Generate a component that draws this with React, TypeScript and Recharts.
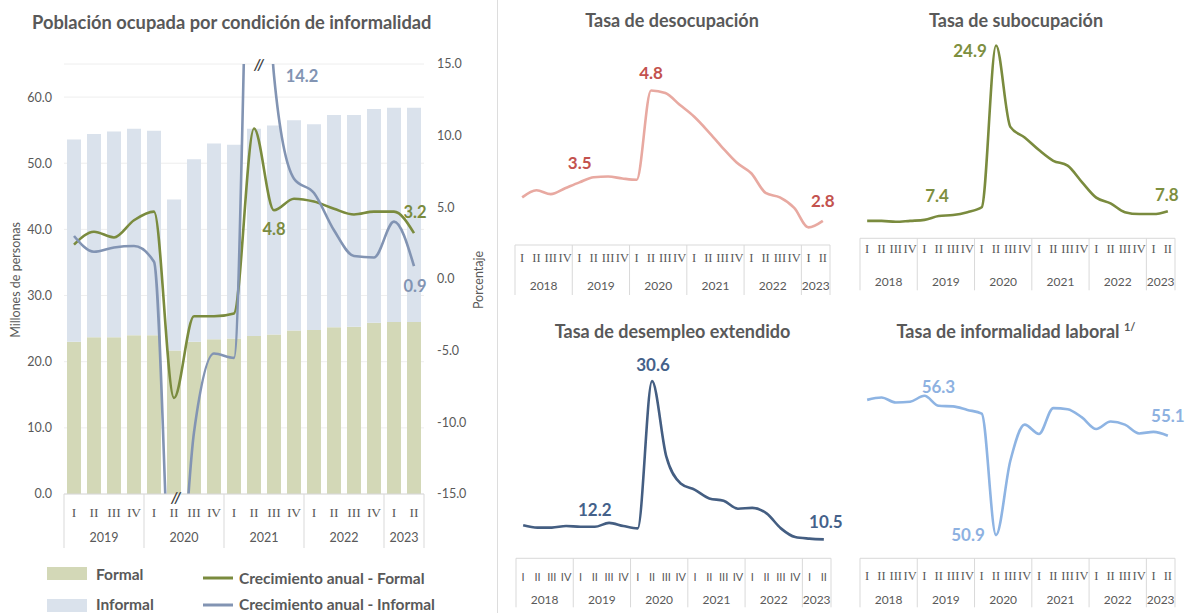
import React from 'react';
import {
  ComposedChart,
  LineChart,
  Bar,
  Line,
  XAxis,
  YAxis,
  CartesianGrid,
  LabelList,
  ReferenceDot,
} from 'recharts';

const GRAY = '#595959';
const AXIS_LINE = '#D9D9D9';
const SANS = 'Lato, "Open Sans", sans-serif';
const SERIF = '"Liberation Serif", "DejaVu Serif", serif';

// ---------- Left chart data ----------
const leftYears = ['2019', '2019', '2019', '2019', '2020', '2020', '2020', '2020', '2021', '2021', '2021', '2021', '2022', '2022', '2022', '2022', '2023', '2023'];
const leftQuarters = ['I', 'II', 'III', 'IV', 'I', 'II', 'III', 'IV', 'I', 'II', 'III', 'IV', 'I', 'II', 'III', 'IV', 'I', 'II'];
const formalMillions = [23.0, 23.7, 23.7, 24.0, 24.0, 21.7, 23.0, 23.4, 23.5, 23.9, 24.1, 24.7, 24.8, 25.2, 25.3, 25.9, 26.0, 26.0];
const informalMillions = [30.6, 30.7, 31.1, 31.2, 30.9, 22.8, 27.6, 29.6, 29.3, 31.3, 31.6, 31.8, 31.1, 32.1, 32.0, 32.3, 32.4, 32.4];
const formalGrowth = [2.4, 3.3, 2.9, 4.1, 4.7, -8.3, -2.6, -2.6, -2.4, 10.5, 4.8, 5.6, 5.4, 4.9, 4.5, 4.7, 4.7, 3.2];
const informalGrowth = [3.0, 1.9, 2.2, 2.3, 1.2, -25.7, -10.7, -5.2, -5.5, 37.0, 14.2, 7.0, 6.0, 3.4, 1.6, 1.5, 4.0, 0.9];
const millionsTicks = [0, 10, 20, 30, 40, 50, 60];
const pctTicks = [-15, -10, -5, 0, 5, 10, 15];
const formalGrowthLabels = [{ i: 10, text: '4.8', dx: 0, dy: 19 }, { i: 17, text: '3.2', dx: 1, dy: -21 }];
const informalGrowthLabels = [{ i: 10, text: '14.2', dx: 28, dy: 1 }, { i: 17, text: '0.9', dx: 1, dy: 20 }];
const breakMarks = [{ i: 9, y: 15, dx: 5, dy: 0 }, { i: 5, y: -15, dx: 2, dy: 3 }];

// ---------- Small charts data ----------
const smallYears = ['2018', '2018', '2018', '2018', '2019', '2019', '2019', '2019', '2020', '2020', '2020', '2020', '2021', '2021', '2021', '2021', '2022', '2022', '2022', '2022', '2023', '2023'];
const smallQuarters = ['I', 'II', 'III', 'IV', 'I', 'II', 'III', 'IV', 'I', 'II', 'III', 'IV', 'I', 'II', 'III', 'IV', 'I', 'II', 'III', 'IV', 'I', 'II'];
const desocupacion = [3.16, 3.27, 3.21, 3.3, 3.39, 3.47, 3.48, 3.45, 3.43, 4.8, 4.76, 4.58, 4.4, 4.17, 3.92, 3.69, 3.53, 3.23, 3.16, 3.0, 2.7, 2.8];
const subocupacion = [6.8, 6.8, 6.7, 6.8, 6.9, 7.3, 7.4, 7.7, 8.2, 24.9, 16.5, 15.4, 14.1, 13.0, 12.5, 10.8, 9.2, 8.6, 7.7, 7.5, 7.5, 7.8];
const desempleoExtendido = [12.3, 12.0, 12.0, 12.2, 12.1, 12.1, 12.6, 12.2, 11.9, 30.6, 21.0, 17.6, 16.8, 15.7, 15.4, 14.4, 14.5, 13.8, 11.9, 10.8, 10.6, 10.5];
const informalidadLaboral = [56.14, 56.23, 56.04, 56.07, 56.3, 55.91, 55.89, 55.75, 55.61, 50.9, 53.78, 55.18, 54.82, 55.82, 55.78, 55.46, 55.01, 55.3, 55.18, 54.84, 54.9, 54.75];

const desocLabels = [{ i: 5, text: '3.5', dx: -14, dy: -15 }, { i: 9, text: '4.8', dx: 0, dy: -18 }, { i: 21, text: '2.8', dx: 0, dy: -20 }];
const subocLabels = [{ i: 9, text: '24.9', dx: -26, dy: 5 }, { i: 6, text: '7.4', dx: -16, dy: -20 }, { i: 21, text: '7.8', dx: -1, dy: -17 }];
const desempLabels = [{ i: 9, text: '30.6', dx: 1, dy: -17 }, { i: 5, text: '12.2', dx: 0, dy: -17 }, { i: 21, text: '10.5', dx: 2, dy: -18 }];
const informLabels = [{ i: 4, text: '56.3', dx: 14, dy: -9 }, { i: 9, text: '50.9', dx: -28, dy: -1 }, { i: 21, text: '55.1', dx: 0, dy: -20 }];

type LabelSpec = { i: number; text: string; dx: number; dy: number };

type TickCfg = {
  keys: string[];
  years: string[];
  quarters: string[];
  band: number;
  axisTop: number;
  qY: number;
  yY: number;
  sepBottom: number;
  qFont: string;
  qSize: number;
  ySize: number;
};

function makeTick(cfg: TickCfg) {
  return (props: any) => {
    const { x, payload } = props;
    let i = cfg.keys.indexOf(payload?.value);
    if (i < 0) i = props.index ?? 0;
    const yr = cfg.years[i];
    const first = i === 0 || cfg.years[i - 1] !== yr;
    const last = i === cfg.years.length - 1;
    let count = 0;
    if (first) {
      for (let j = i; j < cfg.years.length && cfg.years[j] === yr; j++) count++;
    }
    const left = x - cfg.band / 2;
    return (
      <g>
        <text x={x} y={cfg.qY} textAnchor="middle" dominantBaseline="central" fontFamily={cfg.qFont} fontSize={cfg.qSize} fill={GRAY}>
          {cfg.quarters[i]}
        </text>
        {first && <line x1={left} x2={left} y1={cfg.axisTop} y2={cfg.sepBottom} stroke={AXIS_LINE} strokeWidth={1} />}
        {first && (
          <text x={left + (count * cfg.band) / 2} y={cfg.yY} textAnchor="middle" dominantBaseline="central" fontFamily={SANS} fontSize={cfg.ySize} fill={GRAY}>
            {yr}
          </text>
        )}
        {last && <line x1={x + cfg.band / 2} x2={x + cfg.band / 2} y1={cfg.axisTop} y2={cfg.sepBottom} stroke={AXIS_LINE} strokeWidth={1} />}
      </g>
    );
  };
}

function makeLabel(specs: LabelSpec[], color: string, size: number) {
  return (p: any) => {
    const idx = Number(p.value);
    const s = specs.find((q) => q.i === idx);
    if (!s) return null;
    const x = p.viewBox?.x ?? p.x;
    const y = p.viewBox?.y ?? p.y;
    return (
      <text x={x + s.dx} y={y + s.dy} textAnchor="middle" dominantBaseline="central" fontFamily={SANS} fontWeight={700} fontSize={size} fill={color}>
        {s.text}
      </text>
    );
  };
}

type SmallSpec = {
  left: number;
  top: number;
  plotLeft: number;
  plotTop: number;
  plotBottom: number;
  domain: [number, number];
  values: number[];
  color: string;
  labelColor: string;
  labels: LabelSpec[];
  qDy: number;
  yDy: number;
  sepDy: number;
  qFont: string;
  qSize: number;
};

const PLOT_W = 315;

function SmallChart({ spec }: { spec: SmallSpec }) {
  const data = spec.values.map((v, i) => ({ key: `${smallYears[i]}-${smallQuarters[i]}`, v, idx: i }));
  const keys = data.map((d) => d.key);
  const band = PLOT_W / spec.values.length;
  const width = 370;
  const mLeft = spec.plotLeft - spec.left;
  const mTop = spec.plotTop - spec.top;
  const axisTop = spec.plotBottom - spec.top;
  const axisH = spec.sepDy + 4;
  const height = axisTop + axisH;
  const tick = makeTick({
    keys,
    years: smallYears,
    quarters: smallQuarters,
    band,
    axisTop,
    qY: axisTop + spec.qDy,
    yY: axisTop + spec.yDy,
    sepBottom: axisTop + spec.sepDy,
    qFont: spec.qFont,
    qSize: spec.qSize,
    ySize: 12,
  });
  return (
    <div style={{ position: 'absolute', left: spec.left, top: spec.top }}>
      <LineChart width={width} height={height} data={data} margin={{ top: mTop, left: mLeft, right: width - mLeft - PLOT_W, bottom: 0 }}>
        <XAxis
          dataKey="key"
          interval={0}
          height={axisH}
          padding={{ left: band / 2, right: band / 2 }}
          axisLine={{ stroke: AXIS_LINE }}
          tickLine={false}
          tick={tick}
        />
        <YAxis hide domain={spec.domain} allowDataOverflow />
        <Line dataKey="v" type="monotone" stroke={spec.color} strokeWidth={2.6} dot={false} isAnimationActive={false}>
          <LabelList dataKey="idx" content={makeLabel(spec.labels, spec.labelColor, 17)} />
        </Line>
      </LineChart>
    </div>
  );
}

const smallSpecs: SmallSpec[] = [
  {
    left: 490, top: 0, plotLeft: 515, plotTop: 77.4, plotBottom: 245, domain: [2.43, 5.0],
    values: desocupacion, color: '#E8A9A1', labelColor: '#C3524E', labels: desocLabels,
    qDy: 13, yDy: 40, sepDy: 50, qFont: SERIF, qSize: 12.5,
  },
  {
    left: 820, top: 0, plotLeft: 860, plotTop: 34.8, plotBottom: 238.3, domain: [5, 26],
    values: subocupacion, color: '#7A8B3E', labelColor: '#7D8F3F', labels: subocLabels,
    qDy: 10.5, yDy: 43.5, sepDy: 52, qFont: SERIF, qSize: 12.5,
  },
  {
    left: 490, top: 300, plotLeft: 516, plotTop: 370.1, plotBottom: 558.3, domain: [8.1, 32],
    values: desempleoExtendido, color: '#445E82', labelColor: '#44618A', labels: desempLabels,
    qDy: 18, yDy: 41.5, sepDy: 49, qFont: SANS, qSize: 11,
  },
  {
    left: 820, top: 300, plotLeft: 860, plotTop: 364.8, plotBottom: 558.3, domain: [50, 57.5],
    values: informalidadLaboral, color: '#8EB4E3', labelColor: '#8DB1E1', labels: informLabels,
    qDy: 18, yDy: 41.5, sepDy: 49, qFont: SERIF, qSize: 12.5,
  },
];

const smallTitles = [
  { text: 'Tasa de desocupación', x: 672, y: 27 },
  { text: 'Tasa de subocupación', x: 1016, y: 27 },
  { text: 'Tasa de desempleo extendido', x: 672.5, y: 338 },
];

const FORMAL_BAR = '#D3D8B7';
const INFORMAL_BAR = '#DAE2EC';
const FORMAL_LINE = '#7A8B3E';
const INFORMAL_LINE = '#8294B3';

export default function App() {
  const leftData = leftQuarters.map((q, i) => ({
    key: `${leftYears[i]}-${q}`,
    formal: formalMillions[i],
    informal: informalMillions[i],
    gF: formalGrowth[i],
    gI: informalGrowth[i],
    idx: i,
  }));
  const leftKeys = leftData.map((d) => d.key);
  const leftTick = makeTick({
    keys: leftKeys,
    years: leftYears,
    quarters: leftQuarters,
    band: 360 / leftKeys.length,
    axisTop: 494,
    qY: 512,
    yY: 537,
    sepBottom: 548,
    qFont: SERIF,
    qSize: 13.5,
    ySize: 12.5,
  });

  return (
    <div style={{ position: 'absolute', left: 0, top: 0, width: 1190, height: 613, background: '#fff', overflow: 'hidden' }}>
      <svg style={{ position: 'absolute', left: 0, top: 0 }} width={1190} height={613}>
        <line x1={497.5} x2={497.5} y1={0} y2={613} stroke="#DDDDDD" strokeWidth={1} />
        <text x={32} y={29} fontFamily={SANS} fontWeight={700} fontSize={18.3} fill={GRAY}>
          Población ocupada por condición de informalidad
        </text>
        {smallTitles.map((t) => (
          <text key={t.text} x={t.x} y={t.y} textAnchor="middle" fontFamily={SANS} fontWeight={700} fontSize={18} fill={GRAY}>
            {t.text}
          </text>
        ))}
        <text x={1016} y={338} textAnchor="middle" fontFamily={SANS} fontWeight={700} fontSize={18} fill={GRAY}>
          Tasa de informalidad laboral <tspan fontSize={11} dy={-7}>1/</tspan>
        </text>
        {/* legend */}
        <rect x={47} y={567} width={40} height={13} fill={FORMAL_BAR} />
        <text x={96} y={574} dominantBaseline="central" fontFamily={SANS} fontWeight={700} fontSize={15.5} fill={GRAY}>Formal</text>
        <rect x={47} y={599} width={40} height={13} fill={INFORMAL_BAR} />
        <text x={96} y={603.5} dominantBaseline="central" fontFamily={SANS} fontWeight={700} fontSize={15.5} fill={GRAY}>Informal</text>
        <line x1={203} x2={233} y1={578} y2={578} stroke={FORMAL_LINE} strokeWidth={3} />
        <text x={239} y={578} dominantBaseline="central" fontFamily={SANS} fontWeight={700} fontSize={15.5} fill={GRAY}>Crecimiento anual - Formal</text>
        <line x1={203} x2={233} y1={605} y2={605} stroke={INFORMAL_LINE} strokeWidth={3} />
        <text x={239} y={604} dominantBaseline="central" fontFamily={SANS} fontWeight={700} fontSize={15.5} fill={GRAY}>Crecimiento anual - Informal</text>
      </svg>

      <div style={{ position: 'absolute', left: 0, top: 0 }}>
        <ComposedChart width={490} height={550} data={leftData} margin={{ top: 64, right: 6, left: 14, bottom: 0 }}>
          <CartesianGrid yAxisId="left" vertical={false} stroke="#EEEEEE" />
          <XAxis dataKey="key" interval={0} height={56} axisLine={{ stroke: AXIS_LINE }} tickLine={false} tick={leftTick} />
          <YAxis
            yAxisId="left"
            domain={[0, 65]}
            ticks={millionsTicks}
            width={50}
            axisLine={false}
            tickLine={false}
            tickMargin={6}
            tickFormatter={(v: number) => v.toFixed(1)}
            tick={{ fill: GRAY, fontSize: 12.5, fontFamily: SANS }}
            label={(p: any) => {
              const vb = p.viewBox || {};
              const cx = vb.x + 1;
              const cy = vb.y + vb.height / 2 + 1;
              return (
                <text x={cx} y={cy} transform={`rotate(-90 ${cx} ${cy})`} textAnchor="middle" dominantBaseline="central" fontFamily={SANS} fontSize={12.5} fill={GRAY}>
                  Millones de personas
                </text>
              );
            }}
          />
          <YAxis
            yAxisId="right"
            orientation="right"
            domain={[-15, 15]}
            allowDataOverflow
            ticks={pctTicks}
            width={60}
            axisLine={false}
            tickLine={false}
            tickMargin={7}
            tickFormatter={(v: number) => v.toFixed(1)}
            tick={{ fill: GRAY, fontSize: 12.5, fontFamily: SANS }}
            label={(p: any) => {
              const vb = p.viewBox || {};
              const cx = vb.x + 54;
              const cy = vb.y + vb.height / 2 + 1;
              return (
                <text x={cx} y={cy} transform={`rotate(-90 ${cx} ${cy})`} textAnchor="middle" dominantBaseline="central" fontFamily={SANS} fontSize={12.5} fill={GRAY}>
                  Porcentaje
                </text>
              );
            }}
          />
          <Bar yAxisId="left" dataKey="formal" stackId="s" fill={FORMAL_BAR} barSize={14} isAnimationActive={false} />
          <Bar yAxisId="left" dataKey="informal" stackId="s" fill={INFORMAL_BAR} barSize={14} isAnimationActive={false} />
          <Line yAxisId="right" dataKey="gF" type="monotone" stroke={FORMAL_LINE} strokeWidth={2.6} dot={false} isAnimationActive={false}>
            <LabelList dataKey="idx" content={makeLabel(formalGrowthLabels, FORMAL_LINE, 16.5)} />
          </Line>
          <Line yAxisId="right" dataKey="gI" type="monotone" stroke={INFORMAL_LINE} strokeWidth={2.6} dot={false} isAnimationActive={false}>
            <LabelList dataKey="idx" content={makeLabel(informalGrowthLabels, INFORMAL_LINE, 16.5)} />
          </Line>
          {breakMarks.map((b) => (
            <ReferenceDot
              key={b.i}
              yAxisId="right"
              x={leftKeys[b.i]}
              y={b.y}
              r={1}
              fill="none"
              stroke="none"
              label={(p: any) => {
                const vb = p.viewBox || {};
                const cx = vb.x + (vb.width || 0) / 2 + b.dx;
                const cy = vb.y + (vb.height || 0) / 2 + b.dy;
                return (
                  <text x={cx} y={cy} textAnchor="middle" dominantBaseline="central" fontFamily={SANS} fontStyle="italic" fontWeight={700} fontSize={15} fill="#3F3F3F">
                    //
                  </text>
                );
              }}
            />
          ))}
        </ComposedChart>
      </div>

      {smallSpecs.map((s, i) => (
        <SmallChart key={i} spec={s} />
      ))}
    </div>
  );
}
